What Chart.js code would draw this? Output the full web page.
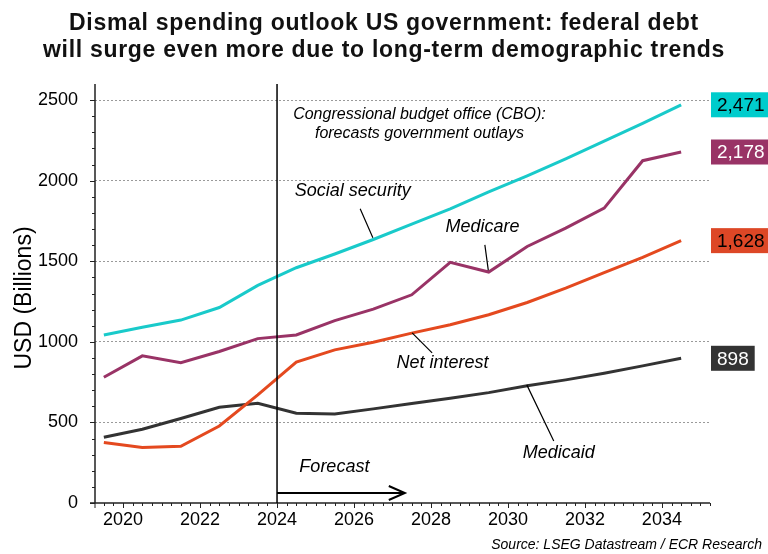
<!DOCTYPE html>
<html>
<head>
<meta charset="utf-8">
<script src="https://cdn.jsdelivr.net/npm/chart.js@4.4.1/dist/chart.umd.min.js"></script>
<style>
  html, body { margin: 0; padding: 0; background: #fff; }
</style>
</head>
<body>
<canvas id="chart" width="768" height="554"></canvas>
<script>
'use strict'

// CBO outlays, billions USD (fiscal years, plotted mid-year)
const years          = [2019.5, 2020.5, 2021.5, 2022.5, 2023.5, 2024.5, 2025.5, 2026.5, 2027.5, 2028.5, 2029.5, 2030.5, 2031.5, 2032.5, 2033.5, 2034.5]
const socialSecurity = [1043, 1090, 1135, 1213, 1350, 1460, 1545, 1635, 1730, 1825, 1930, 2030, 2135, 2245, 2355, 2471]
const medicare       = [780, 913, 871, 940, 1020, 1043, 1132, 1203, 1292, 1493, 1433, 1592, 1706, 1830, 2124, 2178]
const netInterest    = [375, 345, 352, 478, 671, 874, 950, 998, 1054, 1106, 1168, 1244, 1333, 1430, 1524, 1628]
const medicaid       = [408, 458, 524, 594, 619, 557, 553, 584, 617, 650, 685, 727, 764, 805, 851, 898]
const endLabels      = ['2,471', '2,178', '1,628', '898']

const xTicks = [2020, 2022, 2024, 2026, 2028, 2030, 2032, 2034]
const yTicks = [0, 500, 1000, 1500, 2000, 2500]
const forecastStart = 2024

const FONT = "'Liberation Sans', Arial, sans-serif"

const series = [
  { label: 'Social security', data: socialSecurity, color: '#19CACA', box: '#00CCCC', text: '#000' },
  { label: 'Medicare',        data: medicare,       color: '#993366', box: '#993366', text: '#fff' },
  { label: 'Net interest',    data: netInterest,    color: '#E4491F', box: '#DD4726', text: '#000' },
  { label: 'Medicaid',        data: medicaid,       color: '#333333', box: '#333333', text: '#fff' },
]

// text notes and leader lines, in data coordinates
const notes = [
  { text: 'Congressional budget office (CBO):', x: 2027.7, y: 2410, size: 16 },
  { text: 'forecasts government outlays',       x: 2027.7, y: 2292, size: 16 },
  { text: 'Social security', x: 2025.97, y: 1938, size: 18 },
  { text: 'Medicare',        x: 2029.34, y: 1710, size: 18 },
  { text: 'Net interest',    x: 2028.30, y: 870,  size: 18 },
  { text: 'Medicaid',        x: 2031.32, y: 311,  size: 18 },
  { text: 'Forecast',        x: 2025.49, y: 224,  size: 18 },
]
const leaders = [
  [2026.16, 1826, 2026.49, 1646],
  [2029.40, 1602, 2029.49, 1443],
  [2027.51, 1056, 2028.03, 932],
  [2030.49, 733, 2031.19, 385],
]
const arrow = { from: 2024, to: 2027.32, y: 62 }

const decor = {
  id: 'decor',
  beforeDraw(chart) {
    const ctx = chart.ctx
    ctx.save()
    ctx.fillStyle = '#fff'
    ctx.fillRect(0, 0, chart.width, chart.height)
    ctx.restore()
  },
  afterDraw(chart) {
    const ctx = chart.ctx
    const area = chart.chartArea
    const xs = chart.scales.x
    const ys = chart.scales.y
    const px = v => xs.getPixelForValue(v)
    const py = v => ys.getPixelForValue(v)
    ctx.save()

    // title
    ctx.fillStyle = '#111'
    ctx.textAlign = 'center'
    ctx.textBaseline = 'alphabetic'
    ctx.font = 'bold 23px ' + FONT
    ctx.letterSpacing = '0.7px'
    ctx.fillText('Dismal spending outlook US government: federal debt', 384, 30)
    ctx.fillText('will surge even more due to long-term demographic trends', 384, 57)
    ctx.letterSpacing = '0px'

    // y axis title
    ctx.save()
    ctx.translate(25, 298)
    ctx.rotate(-Math.PI / 2)
    ctx.textBaseline = 'middle'
    ctx.font = '23px ' + FONT
    ctx.fillStyle = '#000'
    ctx.fillText('USD (Billions)', 0, 0)
    ctx.restore()

    // axes lines and ticks
    ctx.strokeStyle = '#222'
    ctx.lineWidth = 1.5
    ctx.beginPath()
    ctx.moveTo(area.left, area.top)
    ctx.lineTo(area.left, area.bottom)
    ctx.moveTo(area.left - 5, area.bottom)
    ctx.lineTo(area.right, area.bottom)
    ctx.stroke()

    ctx.lineWidth = 1
    ctx.beginPath()
    for (let v = 0; v <= 2500; v += 100) {
      const y = Math.round(py(v)) + 0.5
      const len = v % 500 === 0 ? 5 : 3
      ctx.moveTo(area.left - len, y)
      ctx.lineTo(area.left, y)
    }
    for (let q = Math.ceil(xs.min * 4); q <= xs.max * 4; q++) {
      const x = Math.round(px(q / 4)) + 0.5
      const len = q % 8 === 0 ? 5 : 3
      ctx.moveTo(x, area.bottom)
      ctx.lineTo(x, area.bottom + len)
    }
    ctx.moveTo(area.left, area.bottom)
    ctx.lineTo(area.left, area.bottom + 5)
    ctx.stroke()

    // forecast divider
    ctx.strokeStyle = '#000'
    ctx.lineWidth = 1.5
    ctx.beginPath()
    ctx.moveTo(px(forecastStart), area.top)
    ctx.lineTo(px(forecastStart), area.bottom)
    ctx.stroke()

    // forecast arrow
    const ay = py(arrow.y)
    const ax0 = px(arrow.from)
    const ax1 = px(arrow.to)
    ctx.lineWidth = 2
    ctx.beginPath()
    ctx.moveTo(ax0, ay)
    ctx.lineTo(ax1, ay)
    ctx.moveTo(ax1 - 16, ay - 7)
    ctx.lineTo(ax1, ay)
    ctx.lineTo(ax1 - 16, ay + 7)
    ctx.stroke()

    // leader lines
    ctx.lineWidth = 1.2
    ctx.beginPath()
    leaders.forEach(l => {
      ctx.moveTo(px(l[0]), py(l[1]))
      ctx.lineTo(px(l[2]), py(l[3]))
    })
    ctx.stroke()

    // notes
    ctx.fillStyle = '#000'
    ctx.textAlign = 'center'
    ctx.textBaseline = 'middle'
    notes.forEach(n => {
      ctx.font = 'italic ' + n.size + 'px ' + FONT
      ctx.fillText(n.text, px(n.x), py(n.y))
    })

    // end value boxes
    ctx.font = '19px ' + FONT
    ctx.textAlign = 'left'
    series.forEach((s, i) => {
      const v = s.data[s.data.length - 1]
      const y = py(v)
      const w = ctx.measureText(endLabels[i]).width + 12
      ctx.fillStyle = s.box
      ctx.fillRect(area.right + 1, y - 12.5, w, 25)
      ctx.fillStyle = s.text
      ctx.fillText(endLabels[i], area.right + 7, y + 1)
    })

    // source
    ctx.font = 'italic 14px ' + FONT
    ctx.textAlign = 'right'
    ctx.fillStyle = '#000'
    ctx.fillText('Source: LSEG Datastream / ECR Research', 762, 545)

    ctx.restore()
  }
}

new Chart(document.getElementById('chart'), {
  type: 'line',
  data: {
    datasets: series.map(s => ({
      label: s.label,
      data: s.data.map((v, i) => ({ x: years[i], y: v })),
      borderColor: s.color,
      borderWidth: 3,
      pointRadius: 0,
      tension: 0,
      fill: false,
    })),
  },
  options: {
    responsive: false,
    animation: false,
    devicePixelRatio: 1,
    layout: { padding: { top: 84, right: 58, left: 0, bottom: 0 } },
    plugins: { legend: { display: false }, tooltip: { enabled: false } },
    scales: {
      x: {
        type: 'linear',
        min: 2019.27,
        max: 2035.25,
        afterBuildTicks: s => { s.ticks = xTicks.map(v => ({ value: v })) },
        afterFit: s => { s.height = 51 },
        grid: { display: false, drawTicks: false },
        border: { display: false },
        ticks: {
          autoSkip: false,
          maxRotation: 0,
          padding: 6,
          color: '#000',
          font: { family: FONT, size: 18 },
          callback: v => String(v),
        },
      },
      y: {
        min: 0,
        max: 2600,
        afterBuildTicks: s => { s.ticks = yTicks.map(v => ({ value: v })) },
        afterFit: s => { s.width = 95 },
        grid: {
          color: c => (c.tick && c.tick.value === 0 ? 'rgba(0,0,0,0)' : '#9a9a9a'),
          lineWidth: 1,
          drawTicks: false,
        },
        border: { display: false, dash: [2, 2] },
        ticks: {
          padding: 17,
          color: '#000',
          font: { family: FONT, size: 18 },
          callback: v => String(v),
        },
      },
    },
  },
  plugins: [decor],
})
</script>
</body>
</html>
